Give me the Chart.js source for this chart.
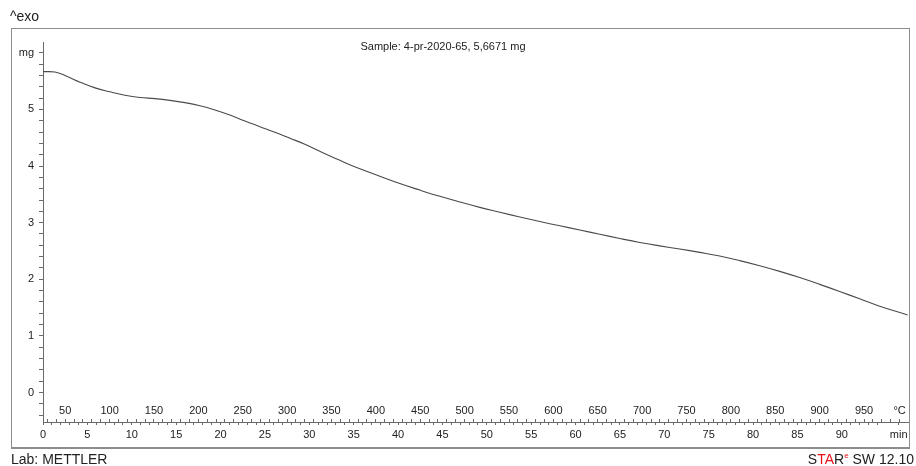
<!DOCTYPE html>
<html>
<head>
<meta charset="utf-8">
<script src="https://cdn.jsdelivr.net/npm/chart.js@4/dist/chart.umd.min.js"></script>
<style>
    html, body { margin: 0; padding: 0; background: #fff; }
    body { width: 916px; height: 466px; position: relative; overflow: hidden; font-family: 'Liberation Sans', Arial, sans-serif; color: #222; }
    #frame { position: absolute; left: 11px; top: 28px; width: 897px; height: 418px; border: 1px solid #8c8c8c; border-bottom-width: 2px; }
    #chartTG { position: absolute; left: 0; top: 0; }
    .txt { position: absolute; white-space: nowrap; }
    #exo { left: 10px; top: 8px; font-size: 14px; }
    #sample { left: 443px; top: 40px; font-size: 11px; transform: translateX(-50%); }
    #lab { left: 11px; top: 451px; font-size: 14px; }
    #star { right: 2px; top: 451px; font-size: 14px; }
    #star .r { color: #e8101a; }
    #star sup { font-size: 8px; color: #e8101a; vertical-align: 6px; }
</style>
</head>
<body>
<div id="frame"></div>
<canvas id="chartTG" width="916" height="466"></canvas>
<div class="txt" id="exo">^exo</div>
<div class="txt" id="sample">Sample: 4-pr-2020-65, 5,6671 mg</div>
<div class="txt" id="lab">Lab: METTLER</div>
<div class="txt" id="star">S<span class="r">TA</span>R<sup>e</sup> SW 12.10</div>
<script>
// curva TG: tempo (min) e massa (mg)
const tempoMin = [0, 1.35, 2.48, 4.17, 5.86, 7.55, 9.23, 10.92, 12.61, 14.30, 15.99, 17.68,
    19.37, 21.06, 22.75, 24.44, 26.13, 27.82, 29.50, 31.19, 33.45, 35.70, 37.95, 40.20,
    42.45, 44.71, 46.96, 49.21, 51.46, 53.72, 55.97, 58.22, 60.47, 62.73, 64.98, 67.23,
    69.48, 71.73, 73.99, 76.24, 78.49, 80.74, 83.00, 85.25, 87.50, 89.75, 92.00, 94.26, 97.41];
const massaMg = [5.667, 5.66, 5.60, 5.48, 5.38, 5.31, 5.25, 5.21, 5.19, 5.16, 5.12, 5.065,
    4.99, 4.90, 4.795, 4.695, 4.595, 4.49, 4.385, 4.26, 4.10, 3.95, 3.82, 3.69,
    3.575, 3.465, 3.365, 3.27, 3.185, 3.10, 3.02, 2.945, 2.87, 2.795, 2.72, 2.65,
    2.59, 2.535, 2.475, 2.41, 2.33, 2.24, 2.14, 2.03, 1.91, 1.785, 1.655, 1.525, 1.37];

// rotulos dos eixos
const rotulosMin = [0, 5, 10, 15, 20, 25, 30, 35, 40, 45, 50, 55, 60, 65, 70, 75, 80, 85, 90];
const rotulosTemp = [50, 100, 150, 200, 250, 300, 350, 400, 450, 500, 550, 600, 650, 700, 750, 800, 850, 900, 950];
const rotulosMassa = [0, 1, 2, 3, 4, 5];
const unidadeMin = { valor: 96.4, texto: 'min' };
const unidadeTemp = { valor: 990, texto: '°C' };
const unidadeMassa = { valor: 6, texto: 'mg' };

const tempInicial = 25;      // °C em t = 0
const taxaAquec = 10;        // K/min
const tMax = 97.45;

const corEixo = '#6a6a6a';
const fonteEixo = { family: "'Liberation Sans', Arial, sans-serif", size: 11 };

function ticksMinutos(scale) {
    const lista = [];
    for (let m = 0; m <= 94; m++) lista.push({ value: m });
    lista.push({ value: unidadeMin.valor });
    scale.ticks = lista;
}

function ticksTemperatura(scale) {
    const lista = [];
    for (let t = 30; t <= 980; t += 10) lista.push({ value: t });
    lista.push({ value: unidadeTemp.valor });
    scale.ticks = lista;
}

function ticksMassa(scale) {
    const lista = [];
    for (let k = -2; k <= 30; k++) lista.push({ value: Math.round(k * 2) / 10 });
    scale.ticks = lista;
}

function criarGraficoTG() {
    const canvas = document.getElementById('chartTG');
    if (!canvas) return;

    try {
        new Chart(canvas, {
            type: 'line',
            data: {
                datasets: [{
                    label: 'TG',
                    data: tempoMin.map((t, i) => ({ x: t, y: massaMg[i] })),
                    borderColor: '#4a4a4a',
                    borderWidth: 1.1,
                    pointRadius: 0,
                    fill: false,
                    tension: 0.4
                }]
            },
            options: {
                responsive: false,
                animation: false,
                devicePixelRatio: 1,
                layout: { padding: { left: 12, right: 8, top: 42, bottom: 20 } },
                plugins: {
                    legend: { display: false },
                    tooltip: { enabled: false }
                },
                scales: {
                    x: {
                        type: 'linear',
                        position: 'bottom',
                        min: 0,
                        max: tMax,
                        afterBuildTicks: ticksMinutos,
                        afterFit: function(scale) { scale.height = 24; },
                        grid: { drawOnChartArea: false, tickLength: 3, color: corEixo, tickColor: corEixo },
                        border: { color: corEixo, width: 1 },
                        ticks: {
                            autoSkip: false,
                            maxRotation: 0,
                            padding: 3,
                            color: '#222',
                            font: fonteEixo,
                            callback: function(value) {
                                if (value === unidadeMin.valor) return unidadeMin.texto;
                                return rotulosMin.includes(value) ? String(value) : '';
                            }
                        }
                    },
                    xT: {
                        type: 'linear',
                        axis: 'x',
                        position: { y: -0.52 },
                        min: tempInicial,
                        max: tempInicial + taxaAquec * tMax,
                        afterBuildTicks: ticksTemperatura,
                        grid: { drawOnChartArea: false, tickLength: -4, color: corEixo, tickColor: corEixo },
                        border: { color: corEixo, width: 1 },
                        ticks: {
                            autoSkip: false,
                            maxRotation: 0,
                            padding: -14,
                            color: '#222',
                            font: fonteEixo,
                            callback: function(value) {
                                if (value === unidadeTemp.valor) return unidadeTemp.texto;
                                return rotulosTemp.includes(value) ? String(value) : '';
                            }
                        }
                    },
                    y: {
                        type: 'linear',
                        min: -0.52,
                        max: 6.19,
                        afterBuildTicks: ticksMassa,
                        afterFit: function(scale) { scale.width = 31; },
                        grid: { drawOnChartArea: false, tickLength: 4, color: corEixo, tickColor: corEixo },
                        border: { color: corEixo, width: 1 },
                        ticks: {
                            autoSkip: false,
                            padding: 5,
                            color: '#222',
                            font: fonteEixo,
                            callback: function(value) {
                                if (Math.abs(value - unidadeMassa.valor) < 1e-6) return unidadeMassa.texto;
                                const r = Math.round(value * 10) / 10;
                                return rotulosMassa.includes(r) ? String(r) : '';
                            }
                        }
                    }
                }
            }
        });
        console.log('grafico TG criado');
    } catch (error) {
        console.error('erro no grafico TG:', error);
    }
}

criarGraficoTG();
</script>
</body>
</html>
